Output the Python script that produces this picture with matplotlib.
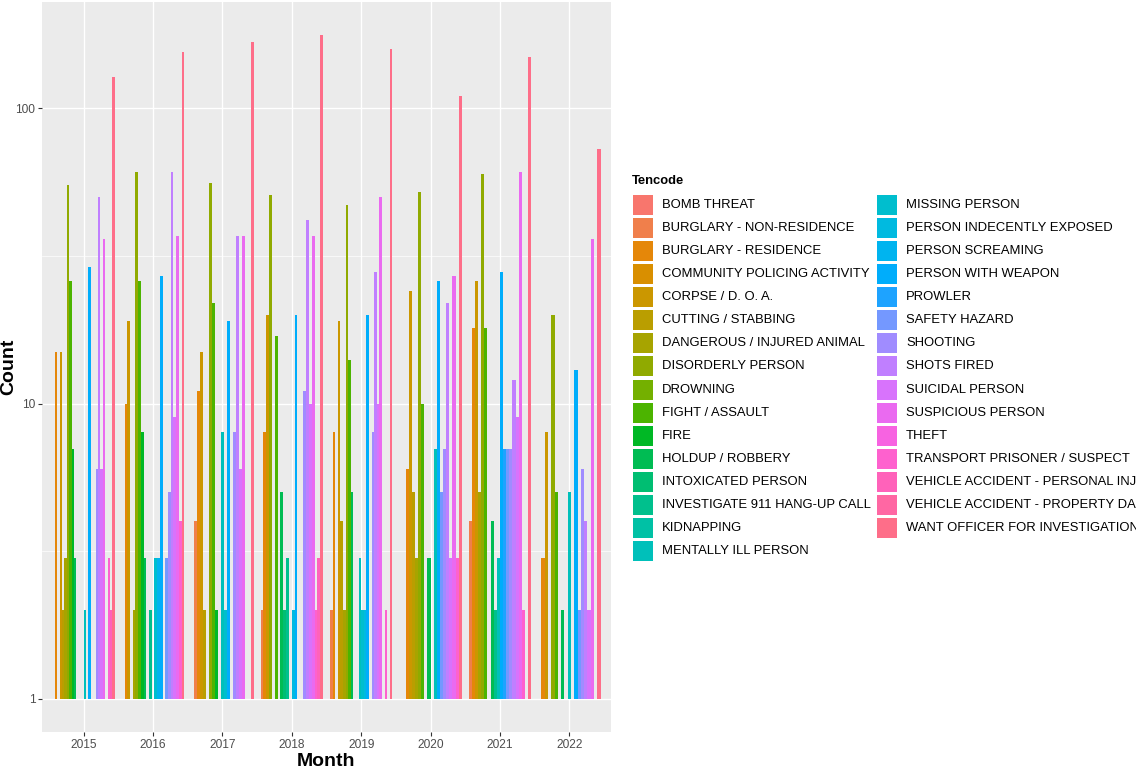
import numpy as np
import matplotlib
matplotlib.use("Agg")
import matplotlib.pyplot as plt
from matplotlib.patches import Rectangle
from matplotlib.ticker import FixedLocator, NullFormatter

plt.rcParams['font.family'] = ['Liberation Sans', 'DejaVu Sans']

categories = [
    "BOMB THREAT", "BURGLARY - NON-RESIDENCE", "BURGLARY - RESIDENCE",
    "COMMUNITY POLICING ACTIVITY", "CORPSE / D. O. A.", "CUTTING / STABBING",
    "DANGEROUS / INJURED ANIMAL", "DISORDERLY PERSON", "DROWNING",
    "FIGHT / ASSAULT", "FIRE", "HOLDUP / ROBBERY", "INTOXICATED PERSON",
    "INVESTIGATE 911 HANG-UP CALL", "KIDNAPPING", "MENTALLY ILL PERSON",
    "MISSING PERSON", "PERSON INDECENTLY EXPOSED", "PERSON SCREAMING",
    "PERSON WITH WEAPON", "PROWLER", "SAFETY HAZARD", "SHOOTING",
    "SHOTS FIRED", "SUICIDAL PERSON", "SUSPICIOUS PERSON", "THEFT",
    "TRANSPORT PRISONER / SUSPECT", "VEHICLE ACCIDENT - PERSONAL INJURY",
    "VEHICLE ACCIDENT - PROPERTY DAMAGE", "WANT OFFICER FOR INVESTIGATION",
]

years = ["2015", "2016", "2017", "2018", "2019", "2020", "2021", "2022"]

# counts per Tencode (same order as categories); 0 = no record that year
counts_2015 = [0, 1, 15, 1, 15, 2, 3, 55, 0, 26, 7, 3, 1, 1, 1, 2, 1, 0, 0, 29, 1, 1, 6, 50, 6, 36, 1, 3, 2, 0, 128]
counts_2016 = [0, 1, 10, 0, 19, 1, 2, 61, 0, 26, 8, 3, 1, 2, 0, 1, 3, 0, 3, 27, 1, 3, 5, 61, 9, 37, 0, 4, 0, 0, 155]
counts_2017 = [1, 4, 11, 0, 15, 2, 1, 56, 0, 22, 2, 1, 0, 0, 0, 8, 2, 0, 0, 19, 1, 0, 8, 37, 6, 37, 1, 1, 0, 0, 168]
counts_2018 = [0, 2, 8, 0, 20, 0, 0, 51, 1, 17, 1, 5, 2, 3, 0, 1, 0, 2, 0, 20, 1, 1, 11, 42, 10, 37, 0, 2, 3, 0, 177]
counts_2019 = [0, 2, 8, 1, 19, 4, 2, 47, 0, 14, 0, 5, 1, 1, 0, 3, 2, 2, 0, 20, 1, 0, 8, 28, 10, 50, 1, 2, 1, 0, 159]
counts_2020 = [1, 1, 6, 0, 24, 5, 3, 52, 0, 10, 1, 3, 0, 1, 0, 7, 0, 0, 0, 26, 0, 5, 7, 22, 3, 27, 0, 3, 0, 0, 110]
counts_2021 = [0, 4, 18, 0, 26, 0, 5, 60, 0, 18, 1, 4, 0, 2, 0, 3, 0, 0, 0, 28, 7, 7, 7, 12, 9, 61, 0, 2, 1, 0, 149]
counts_2022 = [0, 1, 3, 0, 8, 0, 1, 20, 0, 5, 1, 2, 0, 1, 0, 5, 1, 0, 0, 13, 0, 2, 6, 4, 2, 36, 0, 1, 0, 0, 73]

all_counts = [counts_2015, counts_2016, counts_2017, counts_2018,
              counts_2019, counts_2020, counts_2021, counts_2022]


def hcl_hex(h, c, l):
    wx, wy, wz = 95.047, 100.0, 108.883
    den = wx + 15 * wy + 3 * wz
    un, vn = 4 * wx / den, 9 * wy / den
    hr = np.deg2rad(h)
    U, V = c * np.cos(hr), c * np.sin(hr)
    Y = wy * ((l + 16) / 116) ** 3 if l > 8 else wy * l / 903.3
    u = U / (13 * l) + un
    v = V / (13 * l) + vn
    X = 9.0 * Y * u / (4 * v)
    Z = -X / 3 - 5 * Y + 3 * Y / v
    X, Y, Z = X / 100, Y / 100, Z / 100
    rgb = [3.240479 * X - 1.537150 * Y - 0.498535 * Z,
           -0.969256 * X + 1.875992 * Y + 0.041556 * Z,
           0.055648 * X - 0.204043 * Y + 1.057311 * Z]
    out = []
    for t in rgb:
        t = 12.92 * t if t <= 0.0031308 else 1.055 * t ** (1 / 2.4) - 0.055
        out.append(min(max(t, 0), 1))
    return tuple(out)


ncat = len(categories)
colors = [hcl_hex((15 + i * 360 / ncat) % 360, 100, 65) for i in range(ncat)]

W, H = 1136, 775
fig = plt.figure(figsize=(W / 100, H / 100), dpi=100)
fig.patch.set_facecolor('white')

pl, pr, pt, pb = 42, 611, 2, 732
ax = fig.add_axes([pl / W, 1 - pb / H, (pr - pl) / W, (pb - pt) / H])
ax.set_facecolor('#EBEBEB')

for yi, counts in enumerate(all_counts):
    present = [j for j in range(ncat) if counts[j] > 0]
    n = len(present)
    w = 0.9 / n
    for k, j in enumerate(present):
        x = yi - 0.45 + (k + 0.5) * w
        ax.bar(x, counts[j] - 1, bottom=1, width=w, color=colors[j],
               linewidth=0, zorder=2)

ymax = max(max(c) for c in all_counts)
lt = np.log10(ymax)
ax.set_yscale('log')
ax.set_ylim(10 ** (-0.05 * lt), 10 ** (1.05 * lt))
ax.set_xlim(-0.6, len(years) - 0.4)

ax.set_xticks(range(len(years)))
ax.set_xticklabels(years)
ax.yaxis.set_major_locator(FixedLocator([1, 10, 100]))
ax.set_yticklabels(['1', '10', '100'])
ax.yaxis.set_minor_locator(FixedLocator([10 ** 0.5, 10 ** 1.5]))
ax.yaxis.set_minor_formatter(NullFormatter())
ax.tick_params(which='minor', length=0)
ax.tick_params(which='major', length=2.7, width=0.8, color='#333333',
               labelcolor='#4D4D4D', labelsize=8.6, pad=2.2)
for s in ax.spines.values():
    s.set_visible(False)
ax.set_axisbelow(True)
ax.grid(which='major', color='white', linewidth=1.0)
ax.grid(which='minor', axis='y', color='white', linewidth=0.5)

fig.text((pl + pr) / 2 / W, 1 - 762 / H, 'Month', ha='center', va='center',
         fontsize=14, fontweight='bold')
fig.text(9 / W, 1 - (pt + pb) / 2 / H, 'Count', ha='center', va='center',
         rotation=90, fontsize=14, fontweight='bold')

# legend
lax = fig.add_axes([0, 0, 1, 1])
lax.set_xlim(0, W)
lax.set_ylim(H, 0)
lax.axis('off')
lax.text(632, 181, 'Tencode', ha='left', va='center', fontsize=9.4,
         fontweight='bold')
for i, name in enumerate(categories):
    col = 0 if i < 16 else 1
    row = i if i < 16 else i - 16
    cy = 205 + 23.07 * row
    kx = 633 if col == 0 else 877
    lax.add_patch(Rectangle((kx, cy - 10), 20, 20, facecolor=colors[i],
                            edgecolor='none'))
    lax.text(kx + 29, cy, name, ha='left', va='center', fontsize=9.4,
             color='black')

fig.savefig('out.png', dpi=100)
